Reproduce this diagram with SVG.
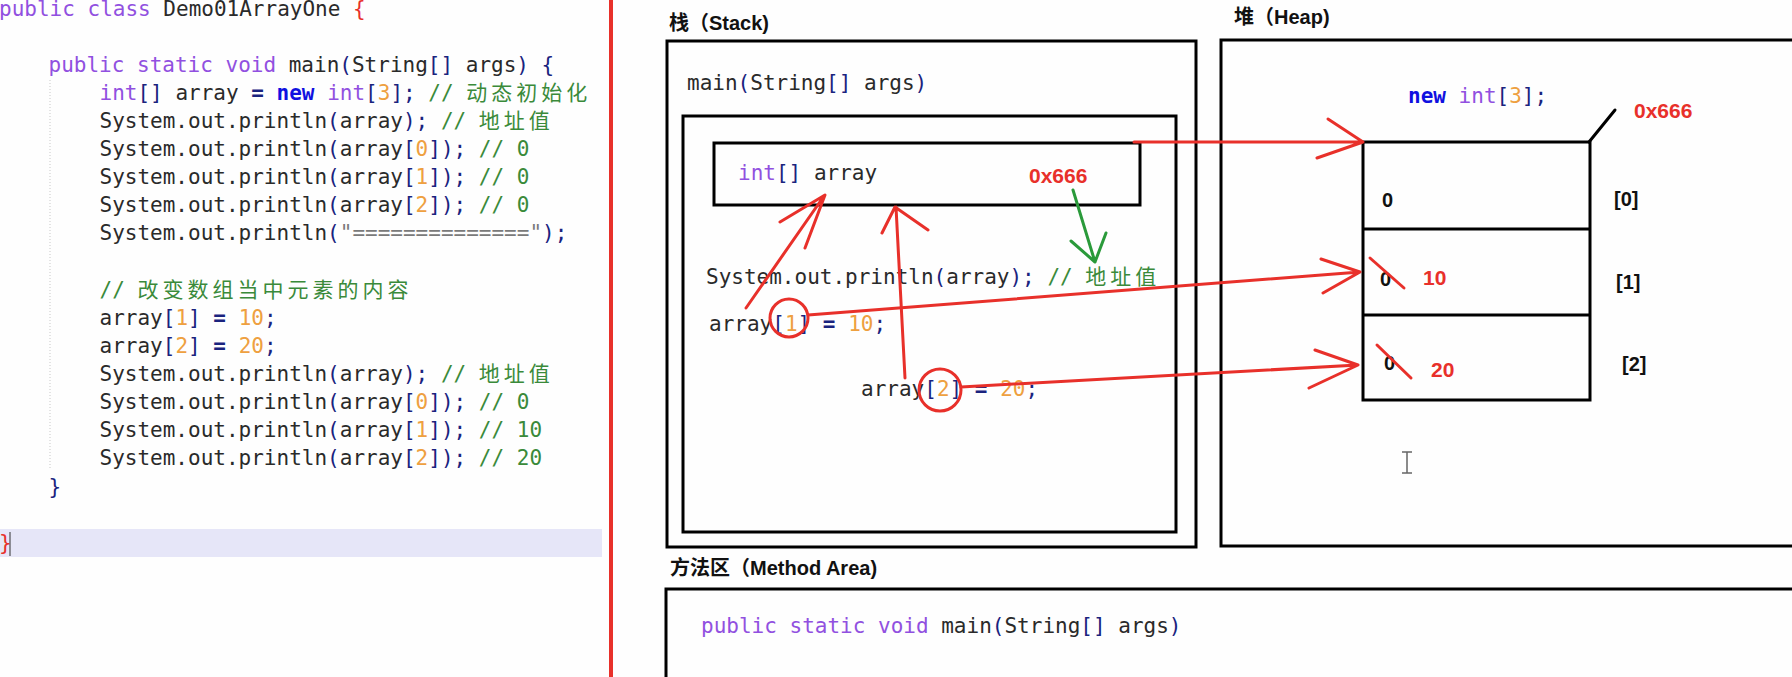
<svg xmlns="http://www.w3.org/2000/svg" width="1792" height="677" viewBox="0 0 1792 677" xml:space="preserve">
<style>
.code{font-family:"DejaVu Sans Mono","Noto Sans CJK SC",monospace;font-size:21px;fill:#2a2a2a}
.k{fill:#9150e0}
.p{fill:#1a237e}
.eq{fill:#1a237e;font-weight:bold}
.n{fill:#eea040}
.c{fill:#3a8a3a}
.cj{fill:#3a8a3a;font-family:"Noto Sans CJK SC",sans-serif;font-size:21px;letter-spacing:4px}
.b{fill:#1010e0;font-weight:bold}
.s{fill:#7a7a7a}
.r{fill:#e8302a}
.h{font-family:"Liberation Sans","Noto Sans CJK SC",sans-serif;font-weight:bold;font-size:20px;fill:#111}
.v{font-family:"Liberation Sans",sans-serif;font-weight:bold;font-size:20px;fill:#111}
.rv{font-family:"Liberation Sans",sans-serif;font-weight:bold;font-size:21px;fill:#e8302a}
.box{fill:none;stroke:#000;stroke-width:3}
.red{fill:none;stroke:#e8302a;stroke-width:3;stroke-linecap:round;stroke-linejoin:round}
.grn{fill:none;stroke:#2a9a3a;stroke-width:3;stroke-linecap:round;stroke-linejoin:round}
</style>
<rect x="0" y="0" width="1792" height="677" fill="#fefefe"/>
<g id="code-panel">
<rect x="0" y="529" width="602" height="28" fill="#e6e6f8"/>
<line x1="50" y1="80" x2="50" y2="470" stroke="#c8c8c8" stroke-width="1" stroke-dasharray="1 2"/>
<text class="code" x="-1" y="16"><tspan class="k">public class</tspan> Demo01ArrayOne <tspan class="r">{</tspan></text>
<text class="code" x="48.5" y="72"><tspan class="k">public static void</tspan> main<tspan class="p">(</tspan>String<tspan class="p">[]</tspan> args<tspan class="p">) {</tspan></text>
<text class="code" x="99.5" y="100"><tspan class="k">int</tspan><tspan class="p">[]</tspan> array <tspan class="eq">=</tspan> <tspan class="b">new</tspan> <tspan class="k">int</tspan><tspan class="p">[</tspan><tspan class="n">3</tspan><tspan class="p">];</tspan> <tspan class="c">// </tspan><tspan class="cj">动态初始化</tspan></text>
<text class="code" x="99.5" y="128">System.out.println<tspan class="p">(</tspan>array<tspan class="p">);</tspan> <tspan class="c">// </tspan><tspan class="cj">地址值</tspan></text>
<text class="code" x="99.5" y="156">System.out.println<tspan class="p">(</tspan>array<tspan class="p">[</tspan><tspan class="n">0</tspan><tspan class="p">]);</tspan> <tspan class="c">// 0</tspan></text>
<text class="code" x="99.5" y="184">System.out.println<tspan class="p">(</tspan>array<tspan class="p">[</tspan><tspan class="n">1</tspan><tspan class="p">]);</tspan> <tspan class="c">// 0</tspan></text>
<text class="code" x="99.5" y="212">System.out.println<tspan class="p">(</tspan>array<tspan class="p">[</tspan><tspan class="n">2</tspan><tspan class="p">]);</tspan> <tspan class="c">// 0</tspan></text>
<text class="code" x="99.5" y="240">System.out.println<tspan class="p">(</tspan><tspan class="s">"=============="</tspan><tspan class="p">);</tspan></text>
<text class="code" x="99.5" y="297"><tspan class="c">// </tspan><tspan class="cj">改变数组当中元素的内容</tspan></text>
<text class="code" x="99.5" y="325">array<tspan class="p">[</tspan><tspan class="n">1</tspan><tspan class="p">]</tspan> <tspan class="eq">=</tspan> <tspan class="n">10</tspan><tspan class="p">;</tspan></text>
<text class="code" x="99.5" y="353">array<tspan class="p">[</tspan><tspan class="n">2</tspan><tspan class="p">]</tspan> <tspan class="eq">=</tspan> <tspan class="n">20</tspan><tspan class="p">;</tspan></text>
<text class="code" x="99.5" y="381">System.out.println<tspan class="p">(</tspan>array<tspan class="p">);</tspan> <tspan class="c">// </tspan><tspan class="cj">地址值</tspan></text>
<text class="code" x="99.5" y="409">System.out.println<tspan class="p">(</tspan>array<tspan class="p">[</tspan><tspan class="n">0</tspan><tspan class="p">]);</tspan> <tspan class="c">// 0</tspan></text>
<text class="code" x="99.5" y="437">System.out.println<tspan class="p">(</tspan>array<tspan class="p">[</tspan><tspan class="n">1</tspan><tspan class="p">]);</tspan> <tspan class="c">// 10</tspan></text>
<text class="code" x="99.5" y="465">System.out.println<tspan class="p">(</tspan>array<tspan class="p">[</tspan><tspan class="n">2</tspan><tspan class="p">]);</tspan> <tspan class="c">// 20</tspan></text>
<text class="code p" x="48.5" y="494">}</text>
<text class="code r" x="-1" y="550">}</text>
<line x1="10" y1="532" x2="10" y2="556" stroke="#333" stroke-width="1"/>
</g>
<rect id="divider" x="609" y="0" width="4" height="677" fill="#e8302a"/>
<g id="stack">
<text class="h" x="669" y="30">栈（Stack)</text>
<rect class="box" x="667" y="41" width="529" height="506"/>
<text class="code" x="687" y="90">main<tspan class="p">(</tspan>String<tspan class="p">[]</tspan> args<tspan class="p">)</tspan></text>
<rect class="box" x="683" y="116" width="493" height="416" stroke-width="4"/>
<g id="array-var">
<rect class="box" x="714" y="143" width="426" height="62"/>
<text class="code" x="738" y="180"><tspan class="k">int</tspan><tspan class="p">[]</tspan> array</text>
<text class="rv" x="1029" y="183">0x666</text>
</g>
<text class="code" x="706" y="284">System.out.println<tspan class="p">(</tspan>array<tspan class="p">);</tspan> <tspan class="c">// </tspan><tspan class="cj">地址值</tspan></text>
<text class="code" x="709" y="331">array<tspan class="p">[</tspan><tspan class="n">1</tspan><tspan class="p">]</tspan> <tspan class="eq">=</tspan> <tspan class="n">10</tspan><tspan class="p">;</tspan></text>
<text class="code" x="861" y="396">array<tspan class="p">[</tspan><tspan class="n">2</tspan><tspan class="p">]</tspan> <tspan class="eq">=</tspan> <tspan class="n">20</tspan><tspan class="p">;</tspan></text>
</g>
<g id="heap">
<text class="h" x="1234" y="24">堆（Heap)</text>
<rect class="box" x="1221" y="40" width="700" height="506"/>
<text class="code" x="1408" y="103"><tspan class="b">new</tspan> <tspan class="k">int</tspan><tspan class="p">[</tspan><tspan class="n">3</tspan><tspan class="p">];</tspan></text>
<text class="rv" x="1634" y="118">0x666</text>
<line x1="1589" y1="142" x2="1615" y2="110" stroke="#000" stroke-width="3" stroke-linecap="round"/>
<g id="array-cells">
<rect class="box" x="1363" y="142" width="227" height="258"/>
<line x1="1363" y1="229" x2="1590" y2="229" stroke="#000" stroke-width="3"/>
<line x1="1363" y1="315" x2="1590" y2="315" stroke="#000" stroke-width="3"/>
<text class="v" x="1382" y="207" font-size="21">0</text>
<text class="v" x="1380" y="286" font-size="21">0</text>
<text class="v" x="1384" y="370" font-size="21">0</text>
<text class="rv" x="1423" y="285">10</text>
<text class="rv" x="1431" y="377">20</text>
<line class="red" x1="1370" y1="258" x2="1404" y2="288"/>
<line class="red" x1="1377" y1="345" x2="1411" y2="378"/>
<text class="v" x="1614" y="206">[0]</text>
<text class="v" x="1616" y="289">[1]</text>
<text class="v" x="1622" y="371">[2]</text>
</g>
<path d="M1402,452 h10 M1407,452 v21 M1402,473 h10" fill="none" stroke="#666" stroke-width="1.5"/>
</g>
<g id="method-area">
<text class="h" x="670" y="575">方法区（Method Area)</text>
<rect class="box" x="666" y="589" width="1200" height="200"/>
<text class="code" x="701" y="633"><tspan class="k">public static void</tspan> main<tspan class="p">(</tspan>String<tspan class="p">[]</tspan> args<tspan class="p">)</tspan></text>
</g>
<g id="connectors">
<path class="red" d="M1134,142 L1362,142 M1328,119 L1363,142 L1317,158"/>
<circle class="red" cx="789" cy="318" r="19"/>
<path class="red" d="M808,315 L1360,272 M1321,259 L1360,272 L1323,293"/>
<circle class="red" cx="940" cy="390" r="21"/>
<path class="red" d="M961,387 L1358,365 M1315,350 L1358,365 L1309,388"/>
<path class="red" d="M746,308 L824,196 M780,222 L825,195 L805,248"/>
<path class="red" d="M905,378 L896,207 M882,233 L895,207 L928,230"/>
<path class="grn" d="M1073,190 L1095,262 M1071,241 L1095,262 L1106,233"/>
</g>
</svg>
